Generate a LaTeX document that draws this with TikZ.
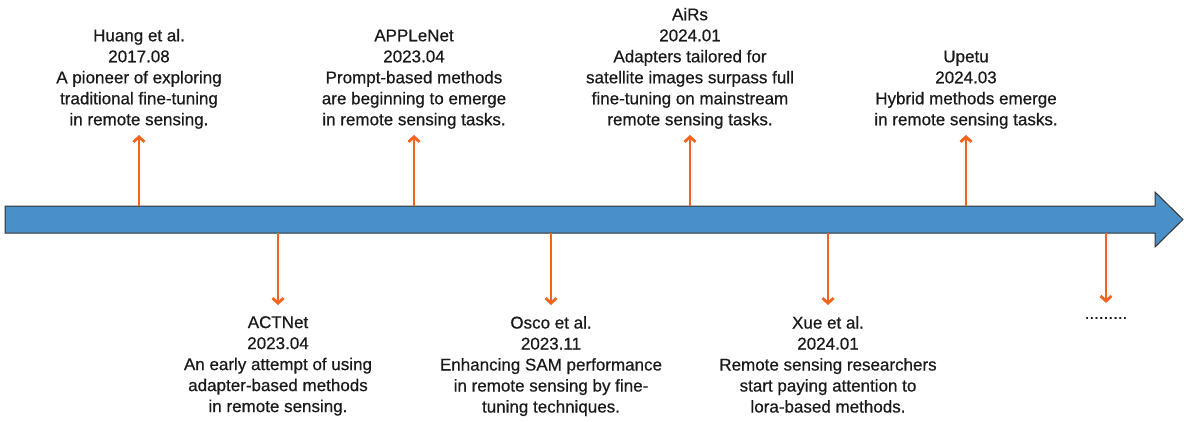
\documentclass[tikz,border=0pt]{standalone}
\usepackage{fontspec}
\setmainfont{Liberation Sans}
\newfontfamily\evfont[FakeBold=0.6]{Liberation Sans}
\usetikzlibrary{arrows.meta}
\definecolor{barblue}{RGB}{74,144,200}
\definecolor{evorange}{RGB}{240,100,30}
\definecolor{evtext}{RGB}{26,26,26}

\begin{document}
\begin{tikzpicture}[x=1pt, y=-1pt,
  ev/.style={align=center, inner sep=0pt, text=evtext, font=\evfont\fontsize{17}{21}\selectfont},
  evup/.style={ev, anchor=south},
  evdown/.style={ev, anchor=north},
  tick/.style={evorange, line width=2.8pt, -{Straight Barb[length=5pt,width=11pt]}}]
\useasboundingbox (0,0) rectangle (1191,421);

% the time line
\draw[fill=barblue, draw=black!80, line width=1pt]
  (5,206) -- (1155,206) -- (1155,192) -- (1183,219.5) -- (1155,247) -- (1155,233) -- (5,233) -- cycle;

\coordinate (t1) at (139,206);
\coordinate (t2) at (278,233);
\coordinate (t3) at (414,206);
\coordinate (t4) at (551,233);
\coordinate (t5) at (690,206);
\coordinate (t6) at (828,233);
\coordinate (t7) at (966,206);
\coordinate (t8) at (1106,233);

% events above
\node[evup] (huang) at (139,129) {Huang et al.\\2017.08\\A pioneer of exploring\\traditional fine-tuning\\in remote sensing.};
\node[evup] (applenet) at (414,129) {APPLeNet\\2023.04\\Prompt-based methods\\are beginning to emerge\\in remote sensing tasks.};
\node[evup] (airs) at (690,129) {AiRs\\2024.01\\Adapters tailored for\\satellite images surpass full\\fine-tuning on mainstream\\remote sensing tasks.};
\node[evup] (upetu) at (966,129) {Upetu\\2024.03\\Hybrid methods emerge\\in remote sensing tasks.};

% events below
\node[evdown] (actnet) at (278,316) {ACTNet\\2023.04\\An early attempt of using\\adapter-based methods\\in remote sensing.};
\node[evdown] (osco) at (551,316) {Osco et al.\\2023.11\\Enhancing SAM performance\\in remote sensing by fine-\\tuning techniques.};
\node[evdown] (xue) at (828,316) {Xue et al.\\2024.01\\Remote sensing researchers\\start paying attention to\\lora-based methods.};
\node[ev] (more) at (1106,318) {.........};

\draw[tick, shorten >=6pt] (t1) -- (huang);
\draw[tick, shorten >=6pt] (t3) -- (applenet);
\draw[tick, shorten >=6pt] (t5) -- (airs);
\draw[tick, shorten >=6pt] (t7) -- (upetu);
\draw[tick, shorten >=11pt] (t2) -- (actnet);
\draw[tick, shorten >=11pt] (t4) -- (osco);
\draw[tick, shorten >=11pt] (t6) -- (xue);
\draw[tick, shorten >=14pt] (t8) -- (more);
\end{tikzpicture}
\end{document}
